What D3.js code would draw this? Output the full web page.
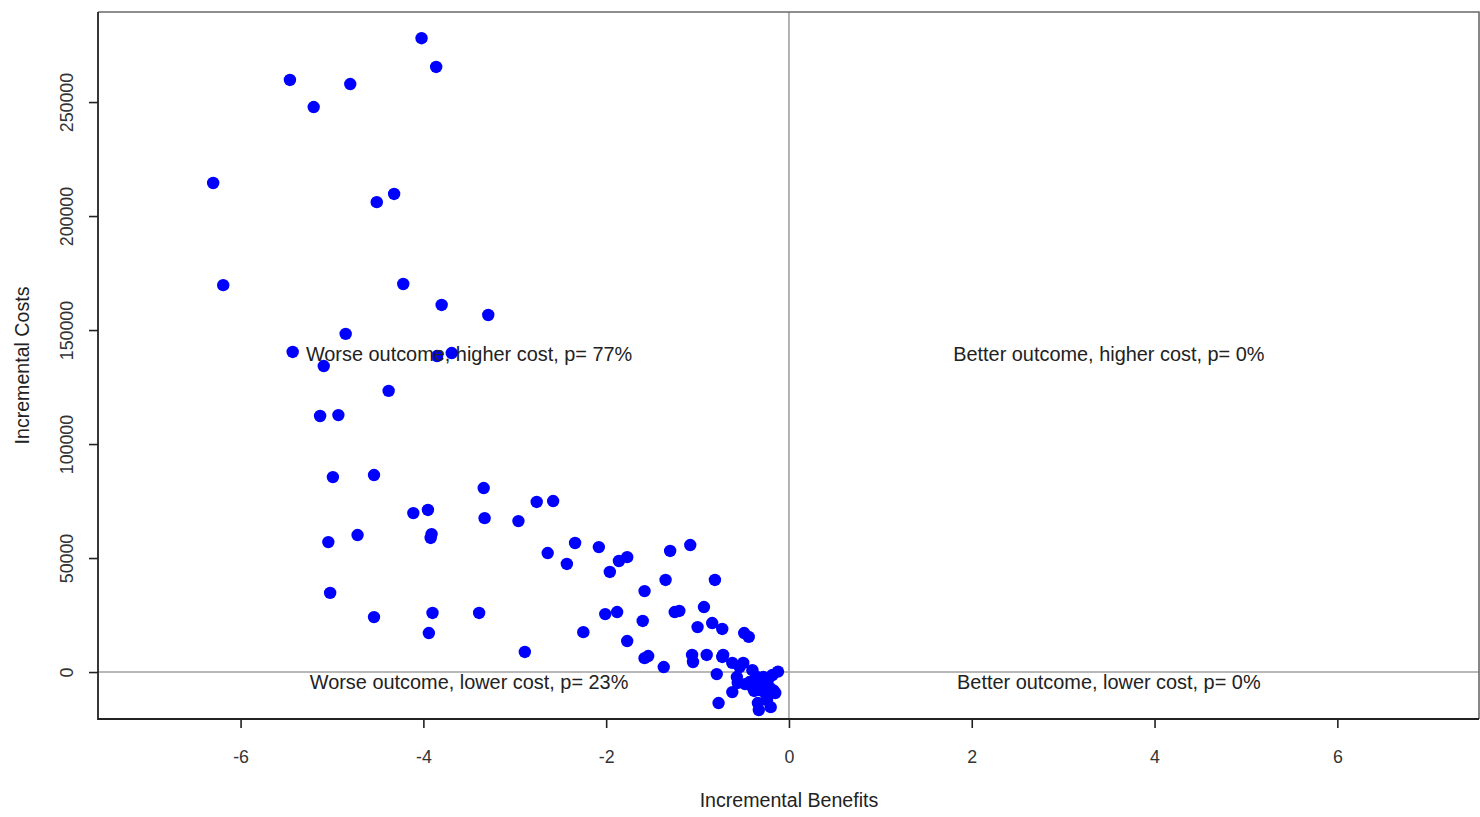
<!DOCTYPE html>
<html>
<head>
<meta charset="utf-8">
<script src="https://cdn.jsdelivr.net/npm/d3@7"></script>
<style>
  html, body { margin: 0; padding: 0; background: #fff; }
  svg { display: block; font-family: "Liberation Sans", Arial, sans-serif; }
</style>
</head>
<body>
<svg id="chart" width="1480" height="817"></svg>
<script>
// Simulated incremental benefits (x) and incremental costs (y), one entry per draw
const incBenefits = [
  -4.02, -3.86, -5.46, -4.80, -5.20, -6.30, -4.32, -4.51, -6.19, -4.22,
  -3.80, -3.29, -4.85, -5.43, -3.69, -3.85, -5.09, -4.38, -5.13, -4.93,
  -4.99, -4.54, -3.34, -4.11, -3.95, -3.33, -2.96, -2.76, -2.58, -5.04,
  -4.72, -3.91, -3.92, -2.64, -2.43, -5.02, -4.54, -3.90, -3.39, -3.94,
  -2.34, -2.08, -1.96, -1.86, -1.77, -1.30, -1.08, -1.35, -1.58, -2.89,
  -2.25, -2.01, -1.88, -1.60, -1.77, -1.58, -1.54, -1.37, -1.25, -1.20,
  -1.06, -1.05, -1.00, -0.81, -0.93, -0.84, -0.73, -0.49, -0.44, -0.90,
  -0.73, -0.72, -0.79, -0.62, -0.54, -0.50, -0.62, -0.77, -0.57, -0.56,
  -0.43, -0.35, -0.28, -0.18, -0.12, -0.32, -0.26, -0.21, -0.15, -0.34,
  -0.33, -0.20, -0.48, -0.38, -0.24, -0.17, -0.30, -0.40, -0.23, -0.40
];
const incCosts = [
  278000, 265400, 259700, 257900, 247800, 214500, 209700, 206100, 169700, 170200,
  161000, 156600, 148300, 140400, 139900, 138600, 134200, 123300, 112300, 112700,
  85500, 86400, 80700, 69700, 71100, 67500, 66200, 74600, 75000, 57000,
  60100, 60500, 58800, 52200, 47400, 34700, 24100, 25900, 25900, 17100,
  56600, 54800, 43900, 48700, 50400, 53100, 55700, 40400, 35500, 8800,
  17500, 25400, 26300, 22400, 13600, 6100, 7000, 2200, 26300, 26800,
  7500, 4400, 19700, 40400, 28500, 21500, 18900, 17100, 15400, 7500,
  6600, 7500, -900, 4000, 2200, 4000, -8800, -13600, -2200, -4800,
  -4400, -2200, -2200, -1300, 200, -7900, -9200, -7000, -9200, -13600,
  -16700, -15400, -5300, -8300, -12300, -8100, -5000, -6600, -3500, 800
];

// Axis ticks
const xTicks = [-6, -4, -2, 0, 2, 4, 6];
const yTicks = [0, 50000, 100000, 150000, 200000, 250000];

// Quadrant annotations
const quadLabels = ["Worse outcome, higher cost, p= 77%", "Better outcome, higher cost, p= 0%",
                    "Worse outcome, lower cost, p= 23%", "Better outcome, lower cost, p= 0%"];
const quadX = [-3.5, 3.5, -3.5, 3.5];
const quadY = [139500, 139500, -4400, -4400];

const svg = d3.select("#chart");
const W = 1480, H = 817;
const m = { left: 98, right: 1, top: 12, bottom: 98 };

const x = d3.scaleLinear().domain([-7.56, 7.55]).range([m.left, W - m.right]);
const y = d3.scaleLinear().domain([-20600, 289500]).range([H - m.bottom, m.top]);

svg.append("rect").attr("width", W).attr("height", H).attr("fill", "#fff");

// Quadrant divider lines through the origin
svg.append("line")
  .attr("x1", x(0)).attr("x2", x(0)).attr("y1", m.top).attr("y2", H - m.bottom)
  .attr("stroke", "#a0a0a0").attr("stroke-width", 1.6);
svg.append("line")
  .attr("x1", m.left).attr("x2", W - m.right).attr("y1", y(0)).attr("y2", y(0))
  .attr("stroke", "#a0a0a0").attr("stroke-width", 1.6);

// Axes
const xAxis = svg.append("g")
  .attr("transform", `translate(0,${H - m.bottom})`)
  .call(d3.axisBottom(x).tickValues(xTicks).tickSize(9).tickPadding(22).tickFormat(d3.format("d")));
const yAxis = svg.append("g")
  .attr("transform", `translate(${m.left},0)`)
  .call(d3.axisLeft(y).tickValues(yTicks).tickSize(9).tickPadding(0).tickFormat(d3.format("d")));

[xAxis, yAxis].forEach(g => {
  g.select(".domain").remove();
  g.selectAll(".tick line").attr("stroke", "#222").attr("stroke-width", 1.6);
  g.selectAll(".tick text")
    .attr("fill", "#333")
    .style("font-size", "17.8px")
    .style("font-family", "'Liberation Sans', Arial, sans-serif");
});
xAxis.selectAll(".tick text").text(d => d < 0 ? "-" + Math.abs(d) : d);
yAxis.selectAll(".tick text")
  .attr("x", null).attr("dy", null)
  .attr("text-anchor", "middle")
  .attr("transform", "translate(-31,0) rotate(-90)")
  .attr("dominant-baseline", "central");

// Plot frame
svg.append("path")
  .attr("d", `M${m.left},${m.top}H${W - m.right}V${H - m.bottom}`)
  .attr("fill", "none").attr("stroke", "#6a6a6a").attr("stroke-width", 1.6);
svg.append("path")
  .attr("d", `M${m.left},${m.top}V${H - m.bottom}H${W - m.right}`)
  .attr("fill", "none").attr("stroke", "#222").attr("stroke-width", 1.8);

// Points
const pts = incBenefits.map((b, i) => ({ b, c: incCosts[i] }));
svg.append("g").selectAll("circle").data(pts).join("circle")
  .attr("cx", d => x(d.b)).attr("cy", d => y(d.c)).attr("r", 6.2)
  .attr("fill", "#0000ff");

// Quadrant labels
svg.append("g").selectAll("text").data(quadLabels).join("text")
  .attr("x", (d, i) => x(quadX[i])).attr("y", (d, i) => y(quadY[i]))
  .attr("text-anchor", "middle").attr("dominant-baseline", "central")
  .attr("fill", "#222").style("font-size", "19.9px")
  .text(d => d);

// Axis titles
svg.append("text")
  .attr("x", x(0)).attr("y", 800)
  .attr("text-anchor", "middle").attr("dominant-baseline", "central")
  .attr("fill", "#222").style("font-size", "19.6px")
  .text("Incremental Benefits");
svg.append("text")
  .attr("transform", `translate(22,${(m.top + H - m.bottom) / 2}) rotate(-90)`)
  .attr("text-anchor", "middle").attr("dominant-baseline", "central")
  .attr("fill", "#222").style("font-size", "19.6px")
  .text("Incremental Costs");
</script>
</body>
</html>
